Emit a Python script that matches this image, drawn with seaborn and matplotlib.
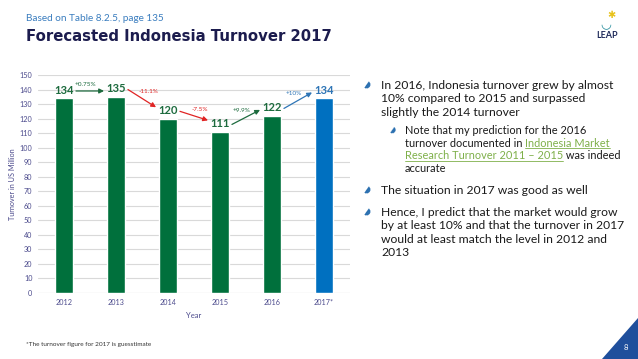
import numpy as np
import seaborn as sns
import matplotlib.pyplot as plt
from matplotlib.patches import Polygon

# data
years = ["2012", "2013", "2014", "2015", "2016", "2017*"]
turnover = [134, 135, 120, 111, 122, 134]
change_labels = ["+0.75%", "-11.1%", "-7.5%", "+9.9%", "+10%"]

GREEN = "#00703c"
BLUE = "#0070c0"
RED = "#e02424"
TXT_GREEN = "#1d6b3e"
TXT_BLUE = "#2e75b6"
AXIS_TXT = "#4b4a8c"

sns.set_style("white")
plt.rcParams["font.family"] = ["Lato", "DejaVu Sans"]

W, H = 638, 359
fig = plt.figure(figsize=(W / 100, H / 100), dpi=100)


def fx(px):
    return px / W


def fy(py):
    return 1 - py / H


ax = fig.add_axes([fx(38), fy(293), fx(350) - fx(38), fy(75) - fy(293)])

pal = [GREEN] * 5 + [BLUE]
sns.barplot(x=years, y=turnover, hue=years, palette=pal, legend=False,
            width=0.33, saturation=1, ax=ax)

ax.set_ylim(0, 150)
ax.set_xlim(-0.5, 5.5)
ax.set_yticks(range(0, 151, 10))
ax.yaxis.grid(True, color="#d9d9d9", lw=0.8)
ax.set_axisbelow(True)
for s in ax.spines.values():
    s.set_visible(False)
ax.axhline(0, color="#d0d0d0", lw=0.8, zorder=0)
ax.tick_params(axis="both", length=0, labelsize=5.2, labelcolor=AXIS_TXT, pad=4)
ax.set_ylabel("Turnover in US Million", fontsize=5.2, color=AXIS_TXT, labelpad=3)
ax.set_xlabel("Year", fontsize=5.5, color=AXIS_TXT, labelpad=5)

# value labels
for i, v in enumerate(turnover):
    c = TXT_BLUE if i == len(turnover) - 1 else TXT_GREEN
    ax.text(i, v + 5.5, str(v), ha="center", va="center", fontsize=8,
            fontweight="bold", color=c)

# arrows with % change
for i, lab in enumerate(change_labels):
    v0, v1 = turnover[i], turnover[i + 1]
    down = v1 < v0
    if down:
        c = RED
    elif i + 1 == len(turnover) - 1:
        c = TXT_BLUE
    else:
        c = TXT_GREEN
    y0 = v0 + 5
    y1 = v1 + 5 + (2.8 if down else -1)
    ax.annotate("", xy=(i + 0.77, y1), xytext=(i + 0.23, y0),
                arrowprops=dict(arrowstyle="-|>", color=c, lw=0.9,
                                mutation_scale=7, shrinkA=0, shrinkB=0))
    mx = i + 0.5 + (0.12 if down else -0.08)
    my = (y0 + y1) / 2 + 4.5
    ax.text(mx, my, lab, ha="center", va="center", fontsize=4.6, color=c)

# header
fig.text(fx(26), fy(21), "Based on Table 8.2.5, page 135", fontsize=7.2,
         color="#3a7dbf", va="baseline")
fig.text(fx(26), fy(41), "Forecasted Indonesia Turnover 2017", fontsize=10.7,
         fontweight="bold", color="#1c1c4e", va="baseline",
         family="DejaVu Sans")

# logo
fig.text(fx(607), fy(38), "LEAP", fontsize=6.5, fontweight="bold",
         color="#1f2a5a", ha="center", va="baseline")
fig.text(fx(611), fy(15), "✱", fontsize=7, color="#e8c21a", ha="center",
         va="center", family="DejaVu Sans")
fig.text(fx(606), fy(25), "◡", fontsize=9, color="#2a8f9e", ha="center",
         va="center", family="DejaVu Sans")

# right hand text
fig.canvas.draw()
renderer = fig.canvas.get_renderer()


def put(x, y, s, size, color="#1a1a1a", underline=False):
    t = fig.text(fx(x), fy(y), s, fontsize=size, color=color, va="baseline")
    bb = t.get_window_extent(renderer)
    if underline:
        fig.lines.append(plt.Line2D([bb.x0 / W, bb.x1 / W],
                                    [bb.y0 / H + 0.0005, bb.y0 / H + 0.0005],
                                    transform=fig.transFigure,
                                    color=color, lw=0.6))
    return bb.x1


def bullet(x, y, size):
    fig.text(fx(x), fy(y), "◗", fontsize=size, color="#2a6fb0",
             va="baseline", family="DejaVu Sans", rotation=-35)


MAIN = 8.7
SUB = 7.9
bullet(362, 89, 7.5)
for k, line in enumerate(["In 2016, Indonesia turnover grew by almost",
                          "10% compared to 2015 and surpassed",
                          "slightly the 2014 turnover"]):
    put(381, 89 + k * 13.5, line, MAIN)

bullet(388, 134, 6.5)
put(405, 134, "Note that my prediction for the 2016", SUB)
xe = put(405, 146.5, "turnover documented in ", SUB)
put(xe, 146.5, "Indonesia Market", SUB, color="#7fb04a", underline=True)
xe = put(405, 159, "Research Turnover 2011 \u2013 2015", SUB,
         color="#7fb04a", underline=True)
put(xe, 159, " was indeed", SUB)
put(405, 171.5, "accurate", SUB)

bullet(362, 194, 7.5)
put(381, 194, "The situation in 2017 was good as well", MAIN)

bullet(362, 216, 7.5)
for k, line in enumerate(["Hence, I predict that the market would grow",
                          "by at least 10% and that the turnover in 2017",
                          "would at least match the level in 2012 and",
                          "2013"]):
    put(381, 216 + k * 13.3, line, MAIN)

# footer
fig.text(fx(26), fy(346), "*The turnover figure for 2017 is guesstimate",
         fontsize=4.6, color="#333333", va="baseline")
tri = Polygon([[fx(602), 0], [1, 0], [1, fy(318)]], closed=True,
              transform=fig.transFigure, facecolor="#1f4f9c", edgecolor="none")
fig.patches.append(tri)
fig.text(fx(626), fy(348), "8", fontsize=5.5, color="white", ha="center",
         va="center")

fig.savefig("out.png", dpi=100)
